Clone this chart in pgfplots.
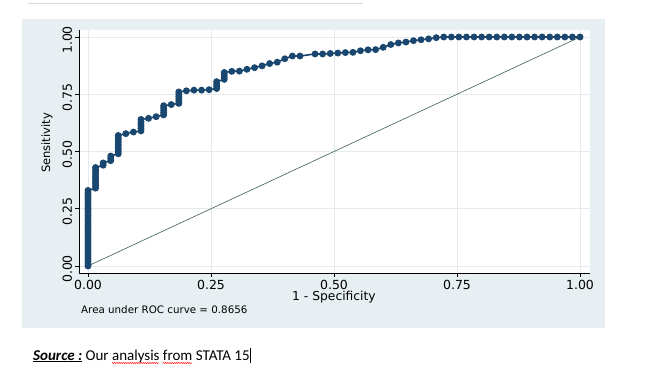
\documentclass[border=0pt]{standalone}
\usepackage{pgfplots}
\pgfplotsset{compat=1.18}
\usetikzlibrary{decorations.pathmorphing}
\usepackage{fontspec}
\setmainfont{DejaVu Sans}
\newfontfamily\carlito{Carlito}
\definecolor{navy}{RGB}{26,71,111}
\definecolor{panel}{RGB}{232,239,242}
\definecolor{gridc}{RGB}{228,234,237}
\definecolor{refline}{RGB}{60,95,80}
\newcommand\wavy[1]{\setbox0\hbox{#1}\copy0\llap{\raisebox{-3pt}{\tikz[baseline=0pt]\draw[red, line width=0.45pt, decorate, decoration={snake, amplitude=0.6pt, segment length=2.2pt}] (0,0)--(\wd0,0);}}}
\pgfplotstableread{
x y
0 0
0 0.01
0 0.02
0 0.03
0 0.04
0 0.05
0 0.06
0 0.07
0 0.08
0 0.09
0 0.10
0 0.11
0 0.12
0 0.13
0 0.14
0 0.15
0 0.16
0 0.17
0 0.18
0 0.19
0 0.20
0 0.21
0 0.22
0 0.23
0 0.24
0 0.25
0 0.26
0 0.27
0 0.28
0 0.29
0 0.30
0 0.31
0 0.32
0 0.33
0.0154 0.34
0.0154 0.35
0.0154 0.36
0.0154 0.37
0.0154 0.38
0.0154 0.39
0.0154 0.40
0.0154 0.41
0.0154 0.42
0.0154 0.43
0.0308 0.44
0.0308 0.45
0.0462 0.46
0.0462 0.47
0.0462 0.48
0.0615 0.49
0.0615 0.50
0.0615 0.51
0.0615 0.52
0.0615 0.53
0.0615 0.54
0.0615 0.55
0.0615 0.56
0.0615 0.57
0.0769 0.578
0.0923 0.585
0.1077 0.59
0.1077 0.60
0.1077 0.61
0.1077 0.62
0.1077 0.63
0.1077 0.64
0.1231 0.645
0.1385 0.652
0.1538 0.66
0.1538 0.67
0.1538 0.68
0.1538 0.69
0.1538 0.70
0.1692 0.705
0.1846 0.71
0.1846 0.72
0.1846 0.73
0.1846 0.74
0.1846 0.75
0.1846 0.76
0.2000 0.765
0.2154 0.768
0.2308 0.768
0.2462 0.770
0.2615 0.775
0.2615 0.785
0.2615 0.795
0.2615 0.805
0.2769 0.815
0.2769 0.825
0.2769 0.835
0.2769 0.845
0.2923 0.850
0.3077 0.851
0.3231 0.859
0.3385 0.866
0.3538 0.874
0.3692 0.884
0.3846 0.890
0.4000 0.905
0.4154 0.917
0.4308 0.917
0.4615 0.926
0.4769 0.926
0.4923 0.928
0.5077 0.930
0.5231 0.932
0.5385 0.933
0.5538 0.940
0.5692 0.944
0.5846 0.945
0.6000 0.955
0.6154 0.967
0.6308 0.974
0.6462 0.978
0.6615 0.984
0.6769 0.988
0.6923 0.992
0.7077 0.997
0.7231 1
0.7385 1
0.7538 1
0.7692 1
0.7846 1
0.8000 1
0.8154 1
0.8308 1
0.8462 1
0.8615 1
0.8769 1
0.8923 1
0.9077 1
0.9231 1
0.9385 1
0.9538 1
0.9692 1
0.9846 1
1.0000 1
}\roc
\begin{document}
\begin{tikzpicture}
\useasboundingbox (0,0) rectangle (667pt,-377pt);
\draw[color=black!15, line width=1pt] (28pt,-4pt) -- (363pt,-4pt);
\fill[panel] (22pt,-19pt) rectangle (605pt,-328pt);
\begin{axis}[
  at={(79pt,-273pt)}, anchor=south west,
  scale only axis, width=511pt, height=243pt,
  xmin=-0.0183, xmax=1.0203, ymin=-0.0306, ymax=1.0306,
  axis lines*=left,
  axis line style={black, line width=0.9pt},
  axis background/.style={fill=white},
  xtick={0,0.25,0.5,0.75,1}, ytick={0,0.25,0.5,0.75,1},
  tick align=outside, major tick length=3.5pt,
  tick style={black, line width=0.8pt},
  grid=major, major grid style={gridc, line width=0.8pt},
  /pgf/number format/assume math mode=true,
  xticklabel={\pgfmathprintnumber[fixed,fixed zerofill,precision=2]{\tick}},
  yticklabel={\pgfmathprintnumber[fixed,fixed zerofill,precision=2]{\tick}},
  ticklabel style={font=\fontsize{12.5}{14}\selectfont},
  xticklabel style={anchor=north, yshift=-2.5pt, inner ysep=1pt},
  yticklabel style={rotate=90, anchor=south, xshift=-3pt},
  xlabel={1 - Specificity},
  xlabel style={at={(axis description cs:0.499,-0.1)}, anchor=center, inner ysep=0pt, font=\fontsize{12.3}{13}\selectfont},
  ylabel={Sensitivity},
  ylabel style={at={(axis description cs:-0.0626,0.535)}, anchor=center, rotate=0, font=\fontsize{11.5}{13}\selectfont},
  clip=false,
]
\addplot[color=refline, line width=0.6pt] coordinates {(0,0) (1,1)};
\addplot[color=navy, line width=1.6pt, mark=*, mark size=2.6pt, mark options={solid, fill=navy}] table[x=x,y=y] {\roc};
\end{axis}
\node[anchor=west, font=\fontsize{10.3}{11}\selectfont, inner sep=0] at (81pt,-309.5pt) {Area under ROC curve = 0.8656};
\node[anchor=base west, inner sep=0, font=\carlito\fontsize{15}{18}\selectfont] at (33pt,-360pt)
  {\underline{\textbf{\textit{Source :}}} Our \wavy{analysis} \wavy{from} STATA 15\hspace{0.5pt}\rule[-3pt]{0.8pt}{15pt}};
\end{tikzpicture}
\end{document}
